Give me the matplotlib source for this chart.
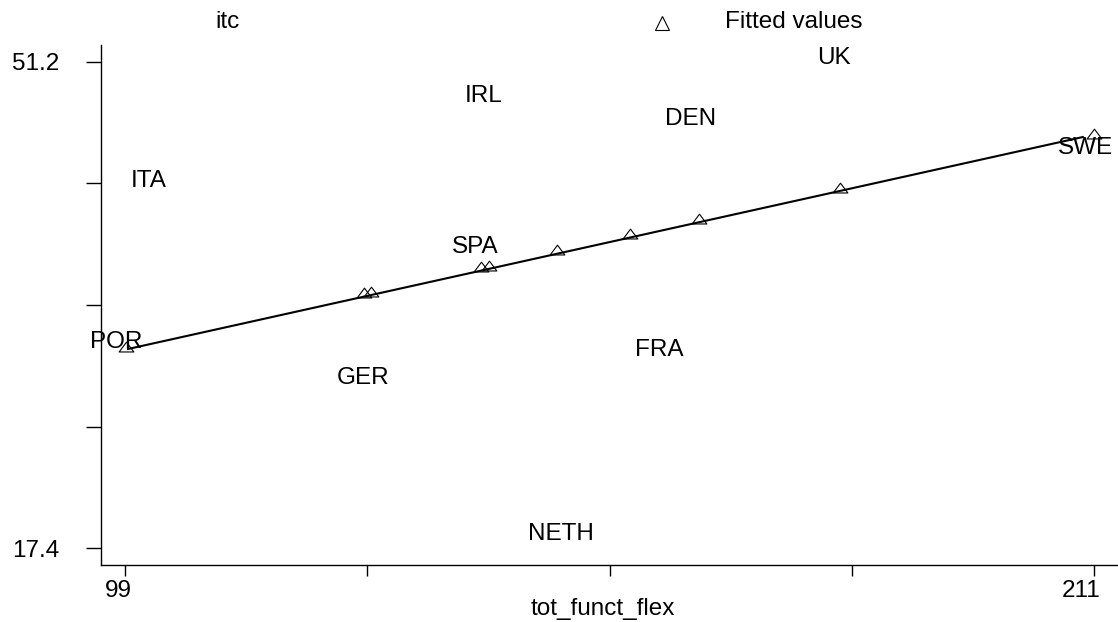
import matplotlib
matplotlib.use("Agg")
import matplotlib.pyplot as plt
import matplotlib.transforms as mt
from matplotlib.path import Path

# ---- data ----
countries = ['ITA', 'IRL', 'UK', 'DEN', 'SWE', 'SPA', 'POR', 'FRA', 'GER', 'NETH']
flex = [101.7, 140.4, 180.9, 164.4, 210.0, 139.5, 98.0, 160.8, 126.5, 149.4]
itc = [42.9, 48.8, 51.5, 47.2, 45.2, 38.3, 31.7, 31.2, 29.2, 18.4]

fit_x = [99.1, 126.6, 127.4, 140.1, 141.1, 148.9, 157.4, 165.3, 181.6, 211.0]
fit_y = [31.2, 34.9, 35.0, 36.7, 36.8, 37.9, 39.0, 40.1, 42.2, 46.0]
line_x = [99.35, 209.7]
line_y = [31.24, 45.98]

xticks = [99, 127, 155, 183, 211]
xticklabels = ['99', '', '', '', '211']
yticks = [17.4, 25.85, 34.3, 42.75, 51.2]
yticklabels = ['17.4', '', '', '', '51.2']

plt.rcParams['font.family'] = ['Liberation Sans', 'DejaVu Sans']
FS = 17.5

fig = plt.figure(figsize=(11.18, 6.22), dpi=100)
ax = fig.add_axes([101 / 1118, 57 / 622, 1017 / 1118, 520 / 622])
ax.set_xlim(96.23, 213.77)
ax.set_ylim(16.22, 52.38)

tri = Path([(-0.75, -0.15), (0.75, -0.15), (0.0, 0.85), (-0.75, -0.15)],
           [Path.MOVETO, Path.LINETO, Path.LINETO, Path.CLOSEPOLY])

ax.plot(line_x, line_y, color='black', lw=1.5, zorder=2)
ax.plot(fit_x, fit_y, ls='none', marker=tri, ms=12, mfc='none', mec='black',
        mew=0.8, zorder=3)

for name, xv, yv in zip(countries, flex, itc):
    ax.text(xv, yv, name, ha='center', va='center', fontsize=FS, color='black',
            zorder=4)

for s in ['top', 'right']:
    ax.spines[s].set_visible(False)
for s in ['left', 'bottom']:
    ax.spines[s].set_color('black')
    ax.spines[s].set_linewidth(1.0)

ax.set_xticks(xticks, labels=xticklabels)
ax.set_yticks(yticks, labels=yticklabels)
ax.tick_params(axis='y', direction='out', length=11, width=1, pad=19,
               labelsize=FS)
ax.tick_params(axis='x', direction='out', length=8, width=1, pad=3,
               labelsize=FS)
for lab in ax.get_xticklabels():
    lab.set_horizontalalignment('right')
    lab.set_transform(lab.get_transform() +
                      mt.ScaledTranslation(5 / 72, 0, fig.dpi_scale_trans))

# x-axis title
fig.text(603 / 1118, 1 - 609 / 622, 'tot_funct_flex', ha='center', va='center',
         fontsize=FS)

# top legend-like labels
fig.text(215 / 1118, 1 - 22 / 622, 'itc', ha='left', va='center', fontsize=FS)
fig.lines.append(plt.Line2D([662 / 1118], [1 - 23 / 622], transform=fig.transFigure,
                            ls='none', marker='^', ms=10, mfc='none', mec='black',
                            mew=0.8))
fig.text(725 / 1118, 1 - 22 / 622, 'Fitted values', ha='left', va='center',
         fontsize=FS)

fig.savefig('out.png', dpi=100, facecolor='white')
